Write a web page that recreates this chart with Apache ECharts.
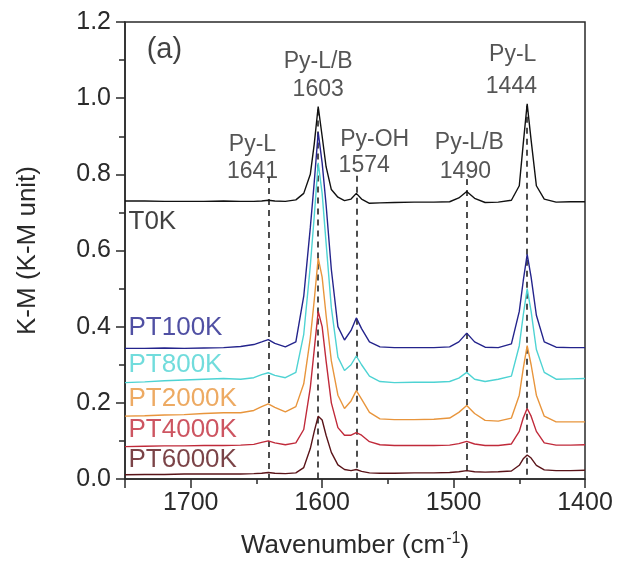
<!DOCTYPE html>
<html>
<head>
<meta charset="utf-8">
<script src="https://cdn.jsdelivr.net/npm/echarts@6/dist/echarts.min.js"></script>
<style>
  html, body { margin: 0; padding: 0; background: #fff; }
  #main { width: 617px; height: 564px; }
</style>
</head>
<body>
<div id="main"></div>
<script>
// wavenumber grid (cm-1)
var wavenumber = [1750,1735,1720,1705,1690,1675,1662,1652,1646,1641,1636,1628,1620,1614,1609,1606,1603,1600,1597,1593,1588,1583,1578,1574,1570,1564,1556,1545,1530,1515,1503,1496,1490,1484,1476,1466,1456,1450,1447,1444,1441,1437,1431,1422,1411,1400];

var t0k = [.730,.730,.729,.729,.729,.730,.729,.729,.730,.732,.730,.729,.733,.75,.80,.88,.978,.90,.82,.76,.74,.731,.735,.750,.735,.724,.725,.726,.727,.727,.728,.738,.755,.737,.726,.727,.732,.77,.88,.985,.89,.77,.735,.727,.728,.728];
var pt100k = [.343,.343,.344,.343,.344,.345,.348,.353,.360,.366,.356,.347,.36,.48,.66,.78,.91,.83,.72,.55,.40,.365,.39,.423,.395,.360,.347,.345,.345,.345,.347,.360,.383,.360,.346,.345,.355,.44,.52,.59,.53,.43,.36,.346,.345,.345];
var pt800k = [.253,.255,.258,.260,.262,.264,.262,.266,.274,.279,.272,.266,.28,.38,.56,.69,.83,.75,.62,.45,.32,.285,.30,.323,.30,.270,.256,.253,.254,.254,.256,.265,.280,.262,.256,.262,.27,.35,.43,.50,.44,.34,.28,.262,.263,.264];
var pt2000k = [.165,.166,.168,.169,.172,.174,.174,.180,.190,.197,.188,.176,.19,.25,.37,.47,.58,.53,.43,.31,.22,.185,.205,.232,.21,.175,.158,.156,.156,.157,.160,.175,.193,.172,.154,.152,.16,.22,.29,.35,.30,.22,.165,.150,.150,.150];
var pt4000k = [.085,.086,.087,.087,.088,.088,.089,.091,.096,.100,.095,.090,.095,.13,.24,.34,.44,.40,.31,.20,.135,.115,.115,.122,.115,.098,.090,.088,.088,.088,.089,.093,.099,.092,.088,.088,.092,.125,.16,.185,.165,.125,.095,.089,.089,.090];
var pt6000k = [.011,.012,.012,.013,.013,.013,.013,.014,.015,.017,.015,.014,.016,.03,.08,.125,.165,.155,.115,.07,.037,.025,.022,.025,.020,.016,.015,.015,.016,.016,.017,.019,.022,.019,.018,.019,.021,.036,.053,.063,.055,.036,.024,.022,.022,.023];

var seriesNames = ['T0K','PT100K','PT800K','PT2000K','PT4000K','PT6000K'];
var seriesColors = ['#111111','#24248c','#4ed3d3','#e8953c','#c02a3a','#5a1419'];

// peak assignments
var peakWn = [1641, 1603, 1574, 1490, 1444];
var peakNames = ['Py-L', 'Py-L/B', 'Py-OH', 'Py-L/B', 'Py-L'];
var peakTop = [0.793, 0.97, 0.796, 0.788, 0.98];

var allData = [t0k, pt100k, pt800k, pt2000k, pt4000k, pt6000k];

var font = 'Liberation Sans, Arial, sans-serif';
var dark = '#2a2a2a';

// where the text sits (data units)
var nameAt = [[1653, 0.879], [1603, 1.096], [1560, 0.892], [1488, 0.884], [1455, 1.114]];
var numAt = [[1653, 0.806], [1603, 1.023], [1568, 0.822], [1491, 0.806], [1456, 1.031]];
var seriesLabelY = [0.676, 0.397, 0.300, 0.211, 0.128, 0.050];

var series = [];
for (var s = allData.length - 1; s >= 0; s--) {
    series.push({
        name: seriesNames[s],
        type: 'line',
        showSymbol: false,
        silent: true,
        z: 10 - s,
        lineStyle: { color: seriesColors[s], width: 1.4 },
        data: wavenumber.map(function (w, i) { return [w, allData[s][i]]; })
    });
}

// dashed guide lines
series.push({
    type: 'line',
    data: [],
    markLine: {
        symbol: 'none',
        silent: true,
        label: { show: false },
        lineStyle: { type: [6, 5], color: '#222', width: 1.6 },
        data: peakWn.map(function (w, i) {
            return [{ coord: [w, peakTop[i]] }, { coord: [w, 0] }];
        })
    }
});

function textSeries(points, texts, color, size, pos) {
    return {
        type: 'scatter',
        symbolSize: 1,
        silent: true,
        z: 20,
        itemStyle: { color: 'rgba(0,0,0,0)' },
        label: {
            show: true,
            position: pos,
            distance: 3,
            fontFamily: font,
            fontSize: size,
            color: color,
            formatter: function (p) { return texts[p.dataIndex]; }
        },
        data: points
    };
}

series.push(textSeries(nameAt, peakNames, dark, 23, 'inside'));
series.push(textSeries(numAt, peakWn.map(String), dark, 23, 'inside'));
series.push(textSeries([[1720, 1.127]], ['(a)'], '#111', 29, 'inside'));

for (var k = 0; k < seriesNames.length; k++) {
    series.push(textSeries([[1750, seriesLabelY[k]]], [seriesNames[k]], seriesColors[k], 26, 'right'));
}

var chart = echarts.init(document.getElementById('main'));
chart.setOption({
    animation: false,
    backgroundColor: '#fff',
    textStyle: { fontFamily: font },
    grid: { left: 125, right: 32, top: 22, bottom: 82, show: true, borderColor: dark, borderWidth: 1.5 },
    xAxis: {
        type: 'value',
        min: 1400,
        max: 1750,
        interval: 100,
        inverse: true,
        name: 'Wavenumber (cm{sup|-1})',
        nameLocation: 'middle',
        nameGap: 52,
        nameTextStyle: {
            fontSize: 26, color: dark, fontFamily: font,
            rich: { sup: { fontSize: 16, color: dark, verticalAlign: 'top', padding: [0, 0, 14, 1] } }
        },
        axisLine: { lineStyle: { color: dark, width: 1.5 } },
        axisTick: { length: 9, lineStyle: { color: dark, width: 1.5 } },
        minorTick: { show: true, splitNumber: 2, length: 5, lineStyle: { color: dark, width: 1.5 } },
        splitLine: { show: false },
        axisLabel: {
            fontSize: 25, color: dark, margin: 12,
            formatter: function (v) { return v === 1750 ? '' : v; }
        }
    },
    yAxis: {
        type: 'value',
        min: 0,
        max: 1.2,
        interval: 0.2,
        name: 'K-M (K-M unit)',
        nameLocation: 'middle',
        nameGap: 84,
        nameTextStyle: { fontSize: 26, color: dark, fontFamily: font },
        axisLine: { show: true, lineStyle: { color: dark, width: 1.5 } },
        axisTick: { show: true, length: 9, lineStyle: { color: dark, width: 1.5 } },
        minorTick: { show: true, splitNumber: 2, length: 6, lineStyle: { color: dark, width: 1.5 } },
        splitLine: { show: false },
        axisLabel: {
            fontSize: 25, color: dark, margin: 14,
            formatter: function (v) { return v.toFixed(1); }
        }
    },
    series: series
});
</script>
</body>
</html>
